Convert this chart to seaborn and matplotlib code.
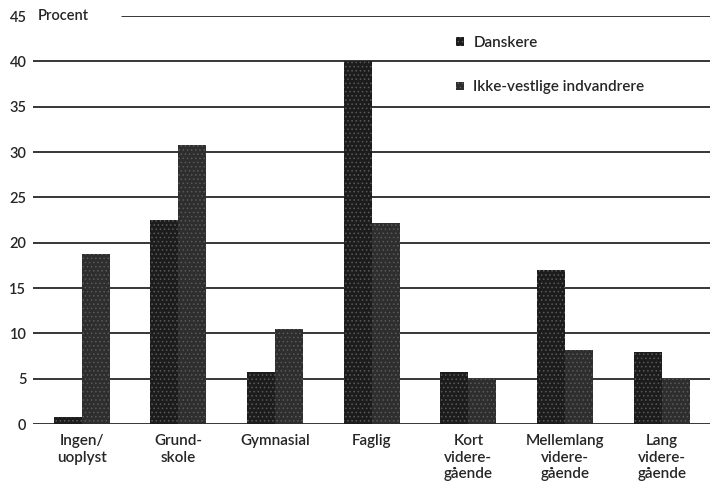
import numpy as np
import pandas as pd
import matplotlib
matplotlib.use("Agg")
import matplotlib.pyplot as plt
import matplotlib.transforms as mtransforms
import seaborn as sns

# ===============================
# DATA
# ===============================
categories = ["Ingen/\nuoplyst", "Grund-\nskole", "Gymnasial", "Faglig",
              "Kort\nvidere-\ngående", "Mellemlang\nvidere-\ngående", "Lang\nvidere-\ngående"]
danskere = [0.8, 22.5, 5.8, 40.0, 5.8, 17.0, 8.0]
indvandrere = [18.8, 30.8, 10.5, 22.2, 5.0, 8.2, 5.0]
series = ["Danskere", "Ikke-vestlige indvandrere"]
yticks = [0, 5, 10, 15, 20, 25, 30, 35, 40, 45]

df = pd.DataFrame({
    "Uddannelse": categories * 2,
    "Procent": danskere + indvandrere,
    "Gruppe": [series[0]] * len(categories) + [series[1]] * len(categories),
})

# ===============================
# STYLE
# ===============================
sns.set_style("white")
plt.rcParams["font.family"] = ["Lato", "DejaVu Sans"]
plt.rcParams["font.weight"] = "semibold"
plt.rcParams["hatch.linewidth"] = 0.6

fig = plt.figure(figsize=(7.1, 4.87), dpi=100)
ax = fig.add_axes([0.047, 0.129, 0.953, 0.838])

palette = {series[0]: "#1c1c1c", series[1]: "#2e2e2e"}
sns.barplot(data=df, x="Uddannelse", y="Procent", hue="Gruppe",
            palette=palette, saturation=1, width=0.58, gap=0,
            ax=ax, zorder=3, legend=True)

for patch in ax.patches:
    patch.set_hatch("....")
    patch.set_edgecolor("#5a5a5a")
    patch.set_linewidth(0)

# gridlines
ax.set_ylim(0, 45)
ax.set_xlim(-0.5, 6.5)
for t in yticks:
    start = 0.131 if t == 45 else 0.0
    ax.axhline(t, xmin=start, xmax=1, color="black", lw=1.1, zorder=1)

sns.despine(ax=ax, left=True, bottom=True, top=True, right=True)
ax.set_yticks(yticks)
ax.set_yticklabels([str(t) for t in yticks], fontsize=10.5)
ax.tick_params(axis="y", length=0, pad=5)
ax.tick_params(axis="x", length=0, pad=7, labelsize=11)
for lbl in ax.get_xticklabels():
    lbl.set_linespacing(1.25)
    lbl.set_va("top")
ax.set_xlabel("")
ax.set_ylabel("")

trans = mtransforms.blended_transform_factory(ax.transAxes, ax.transData)
ax.text(0.006, 45, "Procent", transform=trans, ha="left", va="center", fontsize=10.5)

leg = ax.legend(loc="upper left", bbox_to_anchor=(0.605, 0.985), frameon=False,
                fontsize=11, handlelength=0.5, handleheight=0.5,
                handletextpad=0.6, labelspacing=2.0)

fig.savefig("out.png", dpi=100)
